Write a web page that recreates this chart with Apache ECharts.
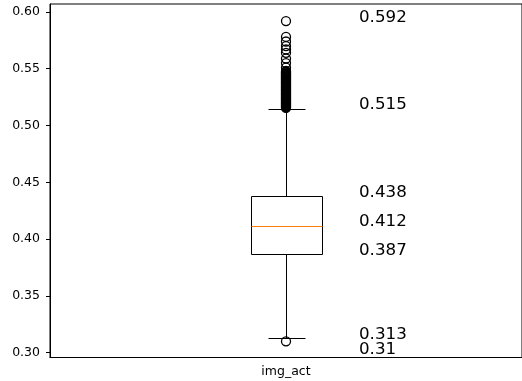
<!DOCTYPE html>
<html>
<head>
<meta charset="utf-8">
<script src="https://cdn.jsdelivr.net/npm/echarts@6/dist/echarts.min.js"></script>
<style>
  html, body { margin: 0; padding: 0; background: #fff; }
  #chart { width: 522px; height: 381px; }
</style>
</head>
<body>
<div id="chart"></div>
<script>
// box stats for img_act: [lower whisker, q1, median, q3, upper whisker]
const categories = ['img_act']
const boxStats = [0.313, 0.387, 0.412, 0.438, 0.515]

// outliers (the 0.516-0.548 band is a solid pile of circles)
const outliers = [
  0.31,
  0.592, 0.578, 0.574, 0.570, 0.567, 0.564, 0.559, 0.555, 0.551,
  0.548, 0.5475, 0.547, 0.5465, 0.546, 0.5455, 0.545, 0.5445, 0.544,
  0.5435, 0.543, 0.5425, 0.542, 0.5415, 0.541, 0.5405, 0.540, 0.5395,
  0.539, 0.5385, 0.538, 0.5375, 0.537, 0.5365, 0.536, 0.5355, 0.535,
  0.5345, 0.534, 0.5335, 0.533, 0.5325, 0.532, 0.5315, 0.531, 0.5305,
  0.530, 0.5295, 0.529, 0.5285, 0.528, 0.5275, 0.527, 0.5265, 0.526,
  0.5255, 0.525, 0.5245, 0.524, 0.5235, 0.523, 0.5225, 0.522, 0.5215,
  0.521, 0.5205, 0.520, 0.5195, 0.519, 0.5185, 0.518, 0.5175, 0.517,
  0.5165, 0.516, 0.5155
]

// text annotations and where their baselines sit
const labelTexts = ['0.592', '0.515', '0.438', '0.412', '0.387', '0.313', '0.31']
const labelPositions = [0.592, 0.515, 0.438, 0.412, 0.387, 0.313, 0.30]

const yTicks = [0.30, 0.35, 0.40, 0.45, 0.50, 0.55, 0.60]

const font = 'DejaVu Sans'
const chart = echarts.init(document.getElementById('chart'))

chart.setOption({
  animation: false,
  grid: {
    left: 50,
    right: -4,
    top: 4,
    bottom: 23.5,
    show: true,
    borderColor: '#000',
    borderWidth: 1
  },
  xAxis: {
    type: 'category',
    data: categories,
    axisLine: { lineStyle: { color: '#000', width: 1 } },
    axisTick: { alignWithLabel: true, length: 4, lineStyle: { color: '#000' } },
    axisLabel: { color: '#000', fontFamily: font, fontSize: 12.5, margin: 8 },
    splitLine: { show: false }
  },
  yAxis: {
    type: 'value',
    min: 0.2958,
    max: 0.607,
    axisLine: { show: true, lineStyle: { color: '#000', width: 1 } },
    axisTick: { show: true, length: 4, customValues: yTicks, lineStyle: { color: '#000' } },
    axisLabel: {
      color: '#000',
      fontFamily: font,
      fontSize: 12.5,
      margin: 10,
      customValues: yTicks,
      formatter: v => v.toFixed(2)
    },
    splitLine: { show: false }
  },
  series: [
    {
      type: 'custom',
      data: [[0].concat(boxStats)],
      renderItem: (params, api) => {
        const x = api.value(0)
        const px = v => api.coord([x, v])
        const lo = px(api.value(1))
        const q1 = px(api.value(2))
        const med = px(api.value(3))
        const q3 = px(api.value(4))
        const hi = px(api.value(5))
        const band = api.size([1, 0])[0]
        const half = band * 0.075
        const capHalf = band * 0.039
        const cx = Math.round(lo[0]) + 0.5
        const r = v => Math.round(v) + 0.5
        const line = (x1, y1, x2, y2, color) => ({
          type: 'line',
          shape: { x1: x1, y1: y1, x2: x2, y2: y2 },
          style: { stroke: color || '#000', lineWidth: 1 }
        })
        return {
          type: 'group',
          children: [
            line(cx, r(hi[1]), cx, r(q3[1])),
            line(cx, r(q1[1]), cx, r(lo[1])),
            line(r(cx - capHalf), r(hi[1]), r(cx + capHalf), r(hi[1])),
            line(r(cx - capHalf), r(lo[1]), r(cx + capHalf), r(lo[1])),
            {
              type: 'rect',
              shape: { x: r(cx - half), y: r(q3[1]), width: Math.round(2 * half), height: Math.round(q1[1] - q3[1]) },
              style: { fill: 'none', stroke: '#000', lineWidth: 1 }
            },
            line(r(cx - half), r(med[1]), r(cx + half), r(med[1]), '#ff7f0e')
          ]
        }
      }
    },
    {
      type: 'scatter',
      data: outliers.map(v => [0, v]),
      symbol: 'circle',
      symbolSize: 9,
      itemStyle: { color: 'rgba(0,0,0,0)', borderColor: '#000', borderWidth: 1.3, opacity: 1 }
    },
    {
      type: 'scatter',
      symbolSize: 0,
      itemStyle: { opacity: 1 },
      data: labelPositions.map((y, i) => ({
        value: [0, y],
        label: { formatter: labelTexts[i] }
      })),
      label: {
        show: true,
        position: [73, 0],
        align: 'left',
        verticalAlign: 'bottom',
        offset: [0, 5],
        color: '#000',
        fontFamily: font,
        fontSize: 16.7
      }
    }
  ]
})
</script>
</body>
</html>
